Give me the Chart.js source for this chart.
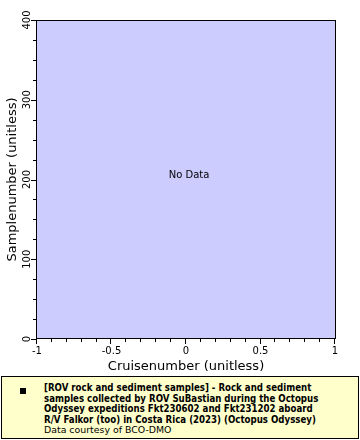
<!DOCTYPE html>
<html lang="en">
<head>
    <meta charset="UTF-8">
    <title>Samplenumber vs Cruisenumber</title>
    <script src="https://cdn.jsdelivr.net/npm/chart.js"></script>
    <style>
        body {
            margin: 0;
            background: #ffffff;
        }
        .wrap {
            position: relative;
            width: 360px;
            height: 440px;
        }
        .legend-box {
            position: absolute;
            left: 1px;
            top: 376px;
            width: 358px;
            height: 63px;
            box-sizing: border-box;
            border: 1px solid #000;
            background: #ffffcc;
        }
        .legend-marker {
            position: absolute;
            left: 18px;
            top: 11px;
            width: 6px;
            height: 6px;
            background: #000;
        }
        .legend-text {
            position: absolute;
            left: 42px;
            top: 6px;
            font-family: "DejaVu Sans Condensed", "DejaVu Sans", sans-serif;
            font-size: 9.6px;
            line-height: 10.5px;
            color: #000;
            white-space: nowrap;
        }
        .legend-text b {
            font-weight: bold;
        }
        .legend-text .credit {
            font-family: "DejaVu Sans", sans-serif;
            font-size: 9.4px;
        }
    </style>
</head>
<body>
    <div class="wrap">
        <canvas id="chart" width="360" height="440"></canvas>
        <div class="legend-box">
            <div class="legend-marker"></div>
            <div class="legend-text">
                <b>[ROV rock and sediment samples] - Rock and sediment<br>
                samples collected by ROV SuBastian during the Octopus<br>
                Odyssey expeditions Fkt230602 and Fkt231202 aboard<br>
                R/V Falkor (too) in Costa Rica (2023) (Octopus Odyssey)</b><br>
                <span class="credit">Data courtesy of BCO-DMO</span>
            </div>
        </div>
    </div>

    <script>
        // data (the source has no points for this pairing)
        const cruiseNumbers = [];
        const sampleNumbers = [];

        // axis ticks
        const xTickValues = [-1, -0.5, 0, 0.5, 1];
        const xTickLabels = ['-1', '-0.5', '0', '0.5', '1'];
        const xMinorStep = 0.1;
        const yTickValues = [0, 100, 200, 300, 400];
        const yTickLabels = ['0', '100', '200', '300', '400'];
        const yMinorStep = 25;

        const xTitle = 'Cruisenumber (unitless)';
        const yTitle = 'Samplenumber (unitless)';
        const emptyText = 'No Data';

        const points = cruiseNumbers.map((x, i) => ({ x: x, y: sampleNumbers[i] }));

        // background, frame, ticks, labels
        const axesPlugin = {
            id: 'axesPlugin',
            beforeDraw(chart) {
                const ctx = chart.ctx;
                const a = chart.chartArea;
                ctx.save();
                ctx.fillStyle = '#ccccff';
                ctx.fillRect(a.left, a.top, a.right - a.left, a.bottom - a.top);
                ctx.restore();
            },
            afterDraw(chart) {
                const ctx = chart.ctx;
                const a = chart.chartArea;
                const xs = chart.scales.x;
                const ys = chart.scales.y;
                ctx.save();

                // frame
                ctx.strokeStyle = '#000';
                ctx.lineWidth = 1;
                ctx.strokeRect(a.left - 0.5, a.top + 0.5, a.right - a.left + 1, a.bottom - a.top - 1);

                // x ticks
                ctx.beginPath();
                for (let v = xs.min; v <= xs.max + 1e-9; v += xMinorStep) {
                    const px = Math.round(xs.getPixelForValue(v)) - 0.5;
                    const major = xTickValues.some(t => Math.abs(t - v) < 1e-6);
                    ctx.moveTo(px, a.bottom);
                    ctx.lineTo(px, a.bottom + (major ? 5 : 3));
                }
                // y ticks
                for (let v = ys.min; v <= ys.max + 1e-9; v += yMinorStep) {
                    const py = Math.round(ys.getPixelForValue(v)) + 0.5;
                    const major = yTickValues.some(t => Math.abs(t - v) < 1e-6);
                    ctx.moveTo(a.left - 1, py);
                    ctx.lineTo(a.left - 1 - (major ? 5 : 3), py);
                }
                ctx.stroke();

                ctx.fillStyle = '#000';
                ctx.font = '10px "DejaVu Sans"';

                // x tick labels
                ctx.textAlign = 'center';
                ctx.textBaseline = 'middle';
                xTickValues.forEach((v, i) => {
                    ctx.fillText(xTickLabels[i], xs.getPixelForValue(v), a.bottom + 12);
                });

                // y tick labels (rotated)
                yTickValues.forEach((v, i) => {
                    ctx.save();
                    ctx.translate(a.left - 10, ys.getPixelForValue(v));
                    ctx.rotate(-Math.PI / 2);
                    ctx.fillText(yTickLabels[i], 0, 0);
                    ctx.restore();
                });

                // titles
                ctx.font = '13px "DejaVu Sans"';
                ctx.fillText(xTitle, (a.left + a.right) / 2, a.bottom + 28);
                ctx.save();
                ctx.translate(13, (a.top + a.bottom) / 2);
                ctx.rotate(-Math.PI / 2);
                ctx.fillText(yTitle, 0, 0);
                ctx.restore();

                // empty message
                if (points.length === 0) {
                    ctx.font = '10px "DejaVu Sans"';
                    ctx.fillText(emptyText, (a.left + a.right) / 2 + 3, (a.top + a.bottom) / 2 - 4);
                }
                ctx.restore();
            }
        };

        const chart = new Chart(document.getElementById('chart'), {
            type: 'scatter',
            data: {
                datasets: [{
                    label: 'ROV rock and sediment samples',
                    data: points,
                    backgroundColor: '#000',
                    pointRadius: 2
                }]
            },
            options: {
                responsive: false,
                animation: false,
                layout: {
                    padding: { left: 37, top: 20, right: 25, bottom: 101 }
                },
                plugins: {
                    legend: { display: false },
                    tooltip: { enabled: false }
                },
                scales: {
                    x: { type: 'linear', min: -1, max: 1, display: false },
                    y: { type: 'linear', min: 0, max: 400, display: false }
                }
            },
            plugins: [axesPlugin]
        });
    </script>
</body>
</html>
